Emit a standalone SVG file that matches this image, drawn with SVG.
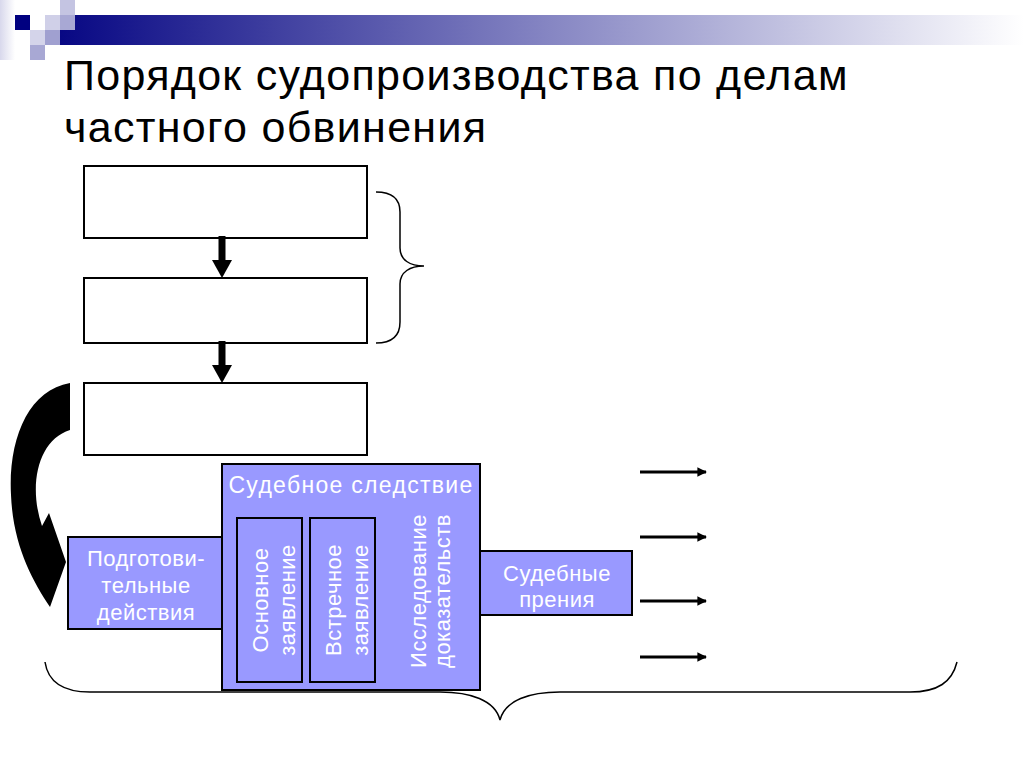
<svg xmlns="http://www.w3.org/2000/svg" width="1024" height="768" viewBox="0 0 1024 768">
<defs>
<linearGradient id="bar" x1="0" y1="0" x2="1" y2="0">
<stop offset="0" stop-color="#000080"/>
<stop offset="0.5" stop-color="#8080C0"/>
<stop offset="1" stop-color="#FFFFFF"/>
</linearGradient>
<linearGradient id="vstrip" x1="0" y1="0" x2="1" y2="0">
<stop offset="0" stop-color="#D8D8EC"/>
<stop offset="1" stop-color="#FFFFFF"/>
</linearGradient>
<marker id="bh" viewBox="0 0 10 10" refX="9" refY="5" markerWidth="3.4" markerHeight="3.2" orient="auto" markerUnits="strokeWidth">
<path d="M0,0 L10,5 L0,10 Z" fill="#000"/>
</marker>
</defs>
<style>
.title{font-family:"Liberation Sans",Arial,sans-serif;font-size:43px;letter-spacing:1.3px;fill:#000}
.wbox{fill:#FFFFFF;stroke:#000;stroke-width:2}
.pbox{fill:#9999FF;stroke:#000;stroke-width:2}
.ibox{fill:#9999FF;stroke:#000;stroke-width:2}
.lbl{font-family:"Liberation Sans",Arial,sans-serif;font-size:22px;letter-spacing:0.5px;fill:#FFFFFF;text-anchor:middle}
.big{font-family:"Liberation Sans",Arial,sans-serif;font-size:23px;letter-spacing:1.3px;fill:#FFFFFF;text-anchor:middle}
.brace{fill:none;stroke:#000;stroke-width:1.5}
.conn{stroke:#000;fill:none}
</style>

<g id="decoration">
<rect x="0" y="0" width="15" height="60" fill="url(#vstrip)"/>
<rect x="30" y="15" width="994" height="30" fill="url(#bar)"/>
<rect x="30" y="15" width="30" height="15" fill="#FFFFFF"/>
<rect x="15" y="15" width="15" height="15" fill="#000080"/>
<rect x="60" y="0" width="15" height="15" fill="#C4C4E2"/>
<rect x="45" y="15" width="15" height="15" fill="#D0D0E8"/>
<rect x="60" y="15" width="15" height="15" fill="#A8A8D4"/>
<rect x="30" y="30" width="15" height="15" fill="#D4D4EA"/>
<rect x="45" y="30" width="15" height="15" fill="#A0A0D0"/>
<rect x="30" y="45" width="15" height="15" fill="#A8A8D4"/>
</g>

<g id="title">
<text class="title" x="64" y="90">Порядок судопроизводства по делам</text>
<text class="title" x="64" y="142">частного обвинения</text>
</g>

<g id="box1"><rect class="wbox" x="84" y="166" width="283" height="72"/></g>
<g id="box2"><rect class="wbox" x="84" y="278" width="283" height="65"/></g>
<g id="box3"><rect class="wbox" x="84" y="383" width="283" height="72"/></g>

<g id="prep">
<rect class="pbox" x="68" y="537" width="154" height="92"/>
<text class="lbl" x="146" y="566">Подготови-</text>
<text class="lbl" x="146" y="593">тельные</text>
<text class="lbl" x="146" y="620">действия</text>
</g>

<g id="investigation">
<rect class="pbox" x="222" y="464" width="258" height="226"/>
<text class="big" x="351" y="493">Судебное следствие</text>
</g>

<g id="main-claim">
<rect class="ibox" x="237" y="518" width="65" height="164"/>
<text class="lbl" transform="translate(268,600) rotate(-90)">Основное</text>
<text class="lbl" transform="translate(295,600) rotate(-90)">заявление</text>
</g>

<g id="counter-claim">
<rect class="ibox" x="310" y="518" width="65" height="164"/>
<text class="lbl" transform="translate(341,600) rotate(-90)">Встречное</text>
<text class="lbl" transform="translate(368,600) rotate(-90)">заявление</text>
</g>

<g id="evidence">
<text class="lbl" transform="translate(426,591) rotate(-90)">Исследование</text>
<text class="lbl" transform="translate(450,591) rotate(-90)">доказательств</text>
</g>

<g id="debates">
<rect class="pbox" x="480" y="551" width="152" height="64"/>
<text class="lbl" x="557" y="581">Судебные</text>
<text class="lbl" x="557" y="607">прения</text>
</g>

<g id="connectors">
<path d="M222,236 L222,262" stroke="#000" stroke-width="7"/>
<path d="M212,260 L232,260 L222,278 Z" fill="#000"/>
<path d="M222,341 L222,366" stroke="#000" stroke-width="7"/>
<path d="M212,365 L232,365 L222,383 Z" fill="#000"/>
<path d="M70,383 C28,390 8,440 11,495 C13,545 32,580 50,607 L66,562 L49,513 L42,526 C28,485 38,440 70,430 Z" fill="#000"/>
<path class="conn" d="M640,472 L706,472" stroke-width="3" marker-end="url(#bh)"/>
<path class="conn" d="M640,537 L706,537" stroke-width="3" marker-end="url(#bh)"/>
<path class="conn" d="M640,601 L706,601" stroke-width="3" marker-end="url(#bh)"/>
<path class="conn" d="M640,657 L706,657" stroke-width="3" marker-end="url(#bh)"/>
<path class="brace" d="M376,192 C392,192 400,198 400,212 L400,248 C400,260 410,266 424,266 C410,266 400,272 400,284 L400,322 C400,336 392,343 376,343"/>
<path class="brace" d="M45,662 C48,682 62,692 90,692 L440,692 C470,692 495,700 500,720 C505,700 530,692 560,692 L910,692 C938,692 952,682 957,662"/>
</g>
</svg>
